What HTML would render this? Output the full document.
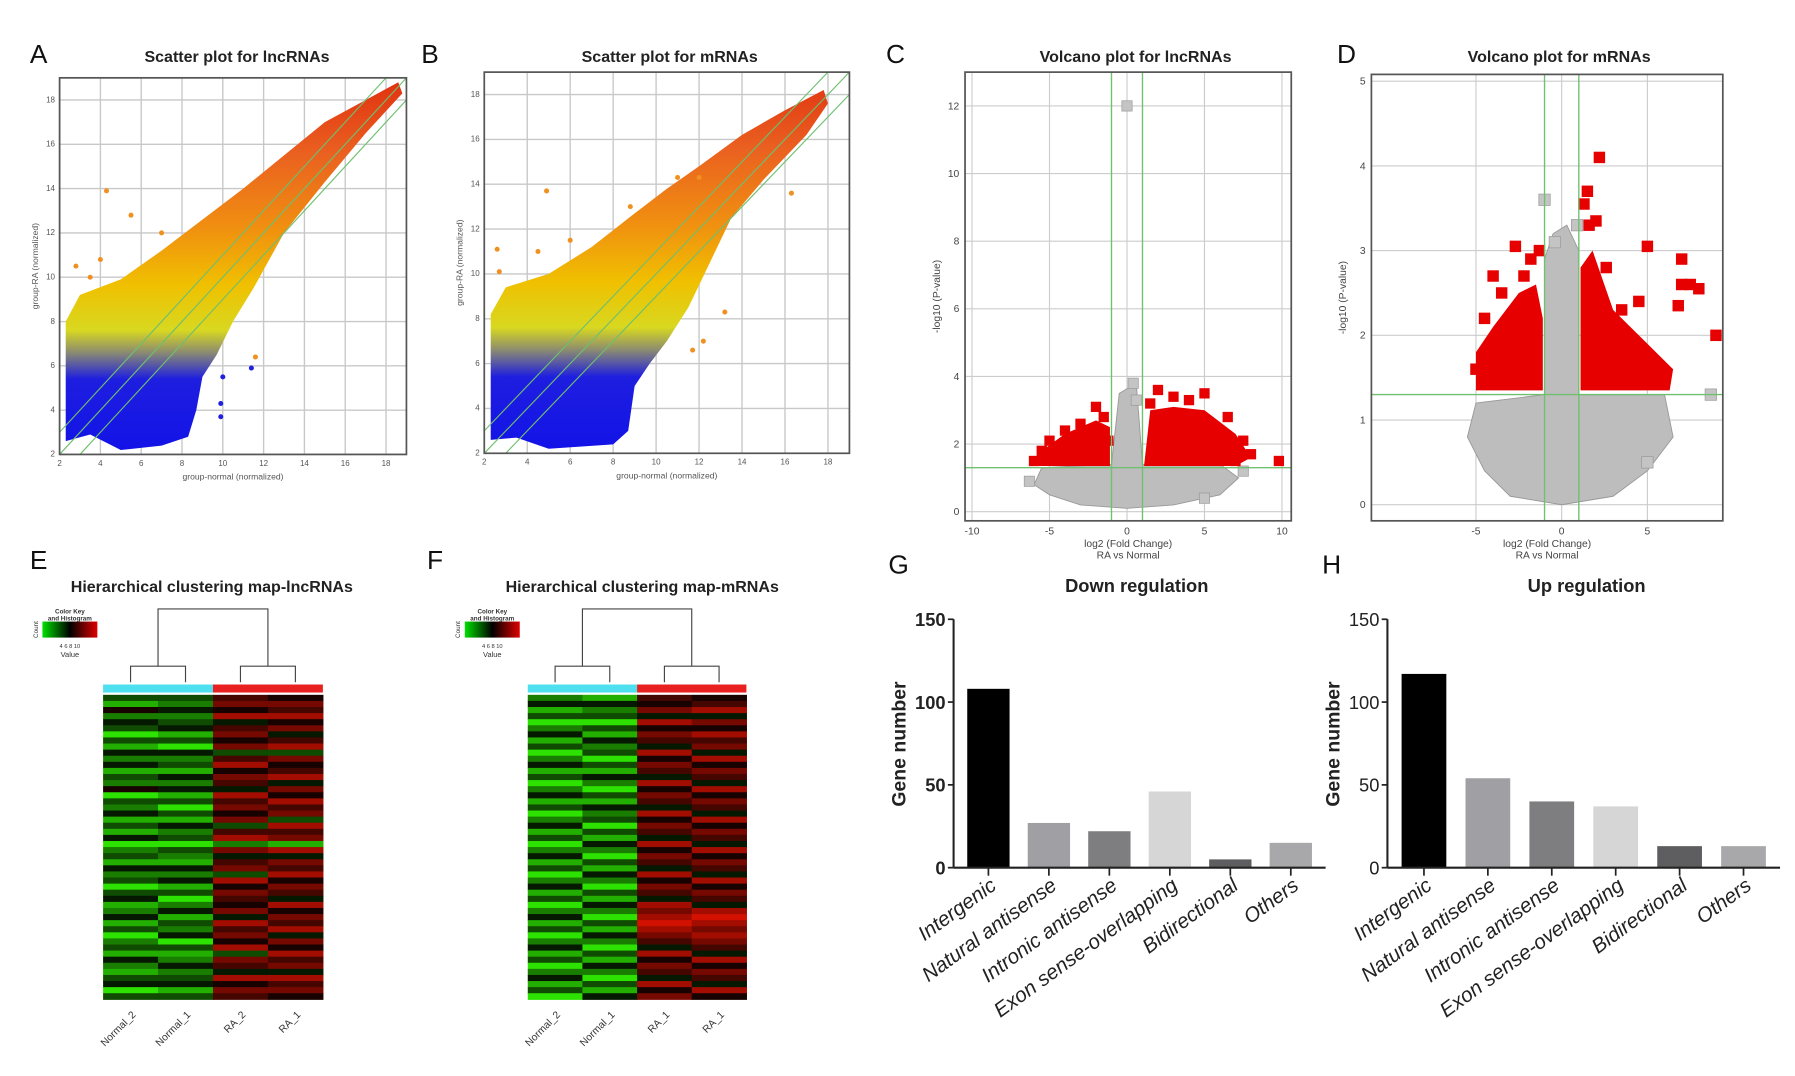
<!DOCTYPE html>
<html><head><meta charset="utf-8"><style>
html,body{margin:0;padding:0;background:#fff;}
svg{display:block;font-family:"Liberation Sans",sans-serif;}
</style></head><body>
<svg id="fig" width="1795" height="1076" viewBox="0 0 1568 940" xmlns="http://www.w3.org/2000/svg">
<defs>
<linearGradient id="ckey" x1="0" x2="1" y1="0" y2="0"><stop offset="0" stop-color="#00e000"/><stop offset="0.5" stop-color="#000"/><stop offset="1" stop-color="#e00000"/></linearGradient>
</defs>
</svg>
<script>
// ---------- data ----------
const scatterTicks=[2,4,6,8,10,12,14,16,18];
const scatterCloudA=[[2.3,2.6],[2.3,8],[3,9.2],[5,9.9],[7,11.2],[9,12.6],[11,14],[13,15.5],[15,17],[17,18],[18.6,18.8],[18.8,18.3],[17,16.5],[15,14.3],[13,12],[11.5,9.5],[10.5,8],[9.7,6.5],[9,5.5],[8.7,4],[8.3,2.8],[7,2.4],[5,2.2],[3.5,2.9]];
const scatterOutA=[[4.3,13.9],[5.5,12.8],[2.8,10.5],[11.4,5.9],[11.6,6.4],[9.9,4.3],[9.9,3.7],[10,5.5],[4,10.8],[3.5,10],[7,12]];
const scatterCloudB=[[2.3,2.6],[2.3,8.2],[3,9.4],[5,10],[7,11.2],[9,12.7],[10.5,13.8],[12,14.8],[14,16.2],[16,17.3],[17.8,18.2],[18,17.6],[17,16.2],[15,14.2],[13.5,12.5],[12.5,10.5],[11.5,8.5],[10.5,7],[9.7,6],[9,5],[8.7,3],[8,2.4],[5,2.2],[3.5,2.7]];
const scatterOutB=[[4.9,13.7],[2.6,11.1],[8.8,13],[13.2,8.3],[12.2,7],[11.7,6.6],[11,14.3],[12,14.3],[16.3,13.6],[2.7,10.1],[4.5,11],[6,11.5]];
const volcCTicksX=[-10,-5,0,5,10];
const volcCTicksY=[0,2,4,6,8,10,12];
const volcCGray=[[-6,0.8],[-5,0.5],[-3,0.2],[0,0.1],[3,0.2],[6,0.5],[7.2,1],[6,1.4],[1,1.4],[0.6,3.8],[-0.5,3.5],[-1,1.4],[-5.5,1.3]];
const volcCGrayPts=[[0,12],[0.4,3.8],[0.6,3.3],[-6.3,0.9],[7.5,1.2],[5,0.4]];
const volcCRedL=[[-6,1.35],[-5.5,1.8],[-4,2.3],[-2,2.7],[-1.1,2.5],[-1.1,1.35]];
const volcCRedR=[[1.1,1.35],[1.5,3],[3,3.1],[5,3],[7,2.3],[8,1.6],[7,1.35]];
const volcCRedPts=[[-6,1.5],[-5.5,1.8],[-5,2.1],[-4,2.4],[-3,2.6],[-2,3.1],[-1.5,2.8],[-4.5,1.6],[-3.5,2],[-2.5,2.3],[-1.2,2.1],[1.5,3.2],[2,3.6],[1.8,2.5],[3,3.4],[4,3.3],[5,3.5],[4.5,2.5],[6,2.3],[6.5,2.8],[7.5,2.1],[8,1.7],[7,1.5],[9.8,1.5],[3,2],[2.5,1.7],[5.5,1.9]];
const volcDTicksX=[-5,0,5];
const volcDTicksY=[0,1,2,3,4,5];
const volcDGray=[[-5,1.2],[-5.5,0.8],[-4.5,0.4],[-3,0.1],[0,0],[3,0.1],[5,0.4],[6.5,0.8],[6,1.3],[1,1.3],[1,3],[0.3,3.3],[-0.5,3.2],[-1,2.9],[-1,1.3]];
const volcDGrayPts=[[-1,3.6],[8.7,1.3],[5,0.5],[0.9,3.3],[-0.4,3.1]];
const volcDRedL=[[-5,1.35],[-5,1.8],[-4,2.1],[-2.5,2.5],[-1.5,2.6],[-1.1,2.2],[-1.1,1.35]];
const volcDRedR=[[1.1,1.35],[1.1,2.8],[1.8,3],[3,2.3],[5,1.9],[6.5,1.6],[6.3,1.35]];
const volcDRedPts=[[2.2,4.1],[1.5,3.7],[1.3,3.55],[2,3.35],[5,3.05],[7,2.9],[7,2.6],[7.5,2.6],[8,2.55],[6.8,2.35],[9,2],[-2.7,3.05],[-3.5,2.5],[-4.5,2.2],[-5,1.6],[6,1.5],[3.5,2.3],[4,1.8],[-2,2.3],[-3,1.9],[-1.8,2.9],[-1.3,3],[1.6,3.3],[2.6,2.8],[-4,2.7],[-2.2,2.7],[4.5,2.4]];
const heatE=["31524303142413250324131402314230341241302314213403","32423413042314241303142303214241302413240312423413","67584675736857648675736827467385765748675837648576","57685746837568475867386718476857648576847586748675"];
const heatF=["24130241302413024130241302413024130241302413024130","14230314230314203142303142031420314203142031420314","65748576485764857648576485764857648789876485764857","56847586748576485764857648576485764898787648576485"];
const barCats=["Intergenic","Natural antisense","Intronic antisense","Exon sense-overlapping","Bidirectional","Others"];
const barColors=["#000","#a0a0a4","#7e7e80","#d6d6d6","#5e5e60","#a8a8aa"];
const downVals=[108,27,22,46,5,15];
const upVals=[117,54,40,37,13,13];
const barTicks=[0,50,100,150];

// ---------- helpers ----------
const NS="http://www.w3.org/2000/svg";
const svg=document.getElementById('fig');
function el(tag,attrs,parent,text){const e=document.createElementNS(NS,tag);for(const k in attrs)e.setAttribute(k,attrs[k]);if(text!==undefined)e.textContent=text;(parent||svg).appendChild(e);return e;}
function lin(d0,d1,r0,r1){return v=>r0+(v-d0)*(r1-r0)/(d1-d0);}
function label(t,x,y){const e=el('text',{x:x,y:y,'font-size':23,fill:'#111'},svg,t);

}
function title(t,x,y,name,size){const e=el('text',{x:x,y:y,'font-size':size||14,'font-weight':'bold','text-anchor':'middle',fill:'#222'},svg,t);

}

// ---------- scatter ----------
function scatter(id,x0,x1,y0,y1,cloud,outs,ttl,tx,ylab){
 const g=el('g',{});
 
 
 const sx=lin(2,19,x0,x1), sy=lin(2,19,y1,y0);
 const gid='grad'+id;
 const lg=el('linearGradient',{id:gid,gradientUnits:'userSpaceOnUse',x1:0,x2:0,y1:sy(2),y2:sy(19)},svg.querySelector('defs'));
 [[0,'#1212e8'],[0.2,'#1e1ee0'],[0.27,'#8a8a72'],[0.33,'#d8d820'],[0.45,'#f0c000'],[0.6,'#f09010'],[0.8,'#ea6020'],[1,'#e03010']].forEach(s=>el('stop',{offset:s[0],'stop-color':s[1]},lg));
 el('rect',{x:x0,y:y0,width:x1-x0,height:y1-y0,fill:'#fff'},g);
 scatterTicks.forEach(t=>{
  el('line',{x1:sx(t),x2:sx(t),y1:y0,y2:y1,stroke:'#c8c8c8','stroke-width':1.2},g);
  el('line',{x1:x0,x2:x1,y1:sy(t),y2:sy(t),stroke:'#c8c8c8','stroke-width':1.2},g);
  el('text',{x:sx(t),y:y1+10,'font-size':7,'text-anchor':'middle',fill:'#555'},g,t);
  el('text',{x:x0-4,y:sy(t)+2,'font-size':7,'text-anchor':'end',fill:'#555'},g,t);
 });
 const cp=el('polygon',{points:cloud.map(p=>sx(p[0])+','+sy(p[1])).join(' '),fill:'url(#'+gid+')'},g);
 
 
 outs.forEach(p=>{const c=el('circle',{cx:sx(p[0]),cy:sy(p[1]),r:2.2,fill:p[1]<6?'#2020e0':'#f09020'},g);
  
  });
 [0,1,-1].forEach(o=>{
  const xa=Math.max(2,2-o), xb=Math.min(19,19-o);
  el('line',{x1:sx(xa),y1:sy(xa+o),x2:sx(xb),y2:sy(xb+o),stroke:'#6fbf6f','stroke-width':1},g);
 });
 el('rect',{x:x0,y:y0,width:x1-x0,height:y1-y0,fill:'none',stroke:'#555','stroke-width':1.5},g);
 el('text',{x:(x0+x1)/2,y:y1+22,'font-size':7.5,'text-anchor':'middle',fill:'#555'},g,'group-normal  (normalized)');
 el('text',{x:0,y:0,'font-size':7.5,'text-anchor':'middle',fill:'#555',transform:`translate(${x0-19},${(y0+y1)/2}) rotate(-90)`},g,ylab);
 title(ttl,tx,54,'title-scatter-'+id);
}
label('A',26,55); label('B',368,55);
scatter('a',52,355,68,397,scatterCloudA,scatterOutA,'Scatter plot for lncRNAs',207,'group-RA  (normalized)');
scatter('b',423,742,63,396,scatterCloudB,scatterOutB,'Scatter plot for mRNAs',585,'group-RA  (normalized)');

// ---------- volcano ----------
function volcano(id,x0,x1,y0,y1,dx,dy,tX,tY,gray,grayPts,redL,redR,redPts,ttl,tx,sq){
 const g=el('g',{});
 
 
 const sx=lin(dx[0],dx[1],x0,x1), sy=lin(dy[0],dy[1],y1,y0);
 tX.forEach(t=>{el('line',{x1:sx(t),x2:sx(t),y1:y0,y2:y1,stroke:'#ccc'},g);
  el('text',{x:sx(t),y:y1+12,'font-size':9,'text-anchor':'middle',fill:'#444'},g,t);});
 tY.forEach(t=>{el('line',{x1:x0,x2:x1,y1:sy(t),y2:sy(t),stroke:'#ccc'},g);
  el('text',{x:x0-5,y:sy(t)+3,'font-size':9,'text-anchor':'end',fill:'#444'},g,t);});
 const pts=a=>a.map(p=>sx(p[0])+','+sy(p[1])).join(' ');
 const gp=el('polygon',{points:pts(gray),fill:'#bdbdbd',stroke:'#999','stroke-width':0.8},g);
 
 
 grayPts.forEach(p=>{const r=el('rect',{x:sx(p[0])-sq/2,y:sy(p[1])-sq/2,width:sq,height:sq,fill:'#c4c4c4',stroke:'#999','stroke-width':0.6},g);
  
  });
 [redL,redR].forEach(a=>{const r=el('polygon',{points:pts(a),fill:'#e60000'},g);
  
  });
 redPts.forEach(p=>{const r=el('rect',{x:sx(p[0])-sq/2,y:sy(p[1])-sq/2,width:sq,height:sq,fill:'#e60000'},g);
  
  });
 [-1,1].forEach(v=>el('line',{x1:sx(v),x2:sx(v),y1:y0,y2:y1,stroke:'#6fc06f','stroke-width':1.2},g));
 el('line',{x1:x0,x2:x1,y1:sy(1.3),y2:sy(1.3),stroke:'#6fc06f','stroke-width':1.2},g);
 el('rect',{x:x0,y:y0,width:x1-x0,height:y1-y0,fill:'none',stroke:'#555','stroke-width':1.5},g);
 el('text',{x:(x0+x1)/2,y:y1+23,'font-size':9,'text-anchor':'middle',fill:'#444'},g,'log2  (Fold Change)');
 el('text',{x:(x0+x1)/2,y:y1+33,'font-size':9,'text-anchor':'middle',fill:'#444'},g,'RA vs Normal');
 el('text',{x:0,y:0,'font-size':9,'text-anchor':'middle',fill:'#444',transform:`translate(${x0-22},${(y0+y1)/2}) rotate(-90)`},g,'-log10  (P-value)');
 title(ttl,tx,54,'title-volcano-'+id);
}
label('C',774,55); label('D',1168,55);
volcano('c',843,1128,63,455,[-10.45,10.6],[-0.27,13],volcCTicksX,volcCTicksY,volcCGray,volcCGrayPts,volcCRedL,volcCRedR,volcCRedPts,'Volcano plot for lncRNAs',992,9);
volcano('d',1198,1505,65,455,[-11.1,9.4],[-0.19,5.08],volcDTicksX,volcDTicksY,volcDGray,volcDGrayPts,volcDRedL,volcDRedR,volcDRedPts,'Volcano plot for mRNAs',1362,10);

// ---------- heatmaps ----------
function heatColor(v){if(v<4.5){const g=Math.round(225*(4.5-v)/4.5);return `rgb(${Math.round(g*0.2)},${g},0)`;}const r=Math.round(210*(v-4.5)/4.5);return `rgb(${r},${Math.round(r*0.08)},0)`;}
function heatmap(id,x0,x1,y0,y1,data,names,ttl,tx,kx){
 const g=el('g',{});
 
 
 const cw=(x1-x0)/4, rows=data[0].length, rh=(y1-y0)/rows;
 data.forEach((col,c)=>{for(let r=0;r<rows;r++){
  const cell=el('rect',{x:x0+c*cw,y:y0+r*rh,width:cw+0.5,height:rh+0.5,fill:heatColor(+col[r])},g);
  
  }});
 el('rect',{x:x0,y:y0-9,width:cw*2,height:7,fill:'#4fe0f0'},g);
 el('rect',{x:x0+cw*2,y:y0-9,width:cw*2,height:7,fill:'#e82020'},g);
 const cx=i=>x0+cw*(i+0.5), L=(x0+x0+cw*2)/2, R=(x0+cw*2+x1)/2;
 const dstyle={stroke:'#444','stroke-width':1,fill:'none'};
 el('polyline',Object.assign({points:`${L},582 ${L},532 ${R},532 ${R},582`},dstyle),g);
 el('polyline',Object.assign({points:`${cx(0)},596 ${cx(0)},582 ${cx(1)},582 ${cx(1)},596`},dstyle),g);
 el('polyline',Object.assign({points:`${cx(2)},596 ${cx(2)},582 ${cx(3)},582 ${cx(3)},596`},dstyle),g);
 names.forEach((n,i)=>el('text',{x:0,y:0,'font-size':9,'text-anchor':'end',fill:'#333',transform:`translate(${cx(i)+5},${y1+14}) rotate(-45)`},g,n));
 el('rect',{x:kx,y:543,width:48,height:14,fill:'url(#ckey)'},g);
 el('text',{x:kx+24,y:536,'font-size':5.5,'text-anchor':'middle','font-weight':'bold',fill:'#333'},g,'Color Key');
 el('text',{x:kx+24,y:542,'font-size':5.5,'text-anchor':'middle','font-weight':'bold',fill:'#333'},g,'and Histogram');
 el('text',{x:kx+24,y:566,'font-size':5,'text-anchor':'middle',fill:'#333'},g,'4   6   8   10');
 el('text',{x:kx+24,y:574,'font-size':6.5,'text-anchor':'middle',fill:'#333'},g,'Value');
 el('text',{x:0,y:0,'font-size':5.5,'text-anchor':'middle',fill:'#333',transform:`translate(${kx-4},550) rotate(-90)`},g,'Count');
 title(ttl,tx,517,'title-heatmap-'+id,14);
}
label('E',26,497); label('F',373,497);
heatmap('e',90,282,607,873,heatE,['Normal_2','Normal_1','RA_2','RA_1'],'Hierarchical clustering map-lncRNAs',185,37);
heatmap('f',461,652,607,873,heatF,['Normal_2','Normal_1','RA_1','RA_1'],'Hierarchical clustering map-mRNAs',561,406);

// ---------- bar charts ----------
function bars(id,ax,axEnd,vals,ttl,tx,boldTicks){
 const g=el('g',{});
 
 
 const sy=lin(0,150,758,541);
 const step=(axEnd-ax-8)/barCats.length, bw=step*0.7;
 vals.forEach((v,i)=>{
  const cx=ax+8+step*(i+0.5)-4;
  const b=el('rect',{x:cx-bw/2,y:sy(v),width:bw,height:sy(0)-sy(v),fill:barColors[i]},g);
  
  
  el('line',{x1:cx,x2:cx,y1:758,y2:765,stroke:'#222','stroke-width':1.5},g);
  el('text',{x:0,y:0,'font-size':18,'font-style':'italic','text-anchor':'end',fill:'#222',transform:`translate(${cx+8},${776}) rotate(-36)`},g,barCats[i]);
 });
 el('line',{x1:ax,x2:ax,y1:sy(150),y2:758,stroke:'#222','stroke-width':1.8},g);
 el('line',{x1:ax,x2:axEnd,y1:758,y2:758,stroke:'#222','stroke-width':1.8},g);
 barTicks.forEach(t=>{el('line',{x1:ax-5,x2:ax,y1:sy(t),y2:sy(t),stroke:'#222','stroke-width':1.5},g);
  el('text',{x:ax-7,y:sy(t)+6,'font-size':16,'font-weight':boldTicks?'bold':'normal','text-anchor':'end',fill:'#222'},g,t);});
 el('text',{x:0,y:0,'font-size':17,'font-weight':'bold','text-anchor':'middle',fill:'#222',transform:`translate(${ax-42},650) rotate(-90)`},g,'Gene number');
 title(ttl,tx,517,'title-'+id,16);
}
label('G',776,501); label('H',1155,501);
bars('down-regulation',833,1158,downVals,'Down regulation',993,true);
bars('up-regulation',1212,1555,upVals,'Up regulation',1386,false);
</script>
</body></html>
